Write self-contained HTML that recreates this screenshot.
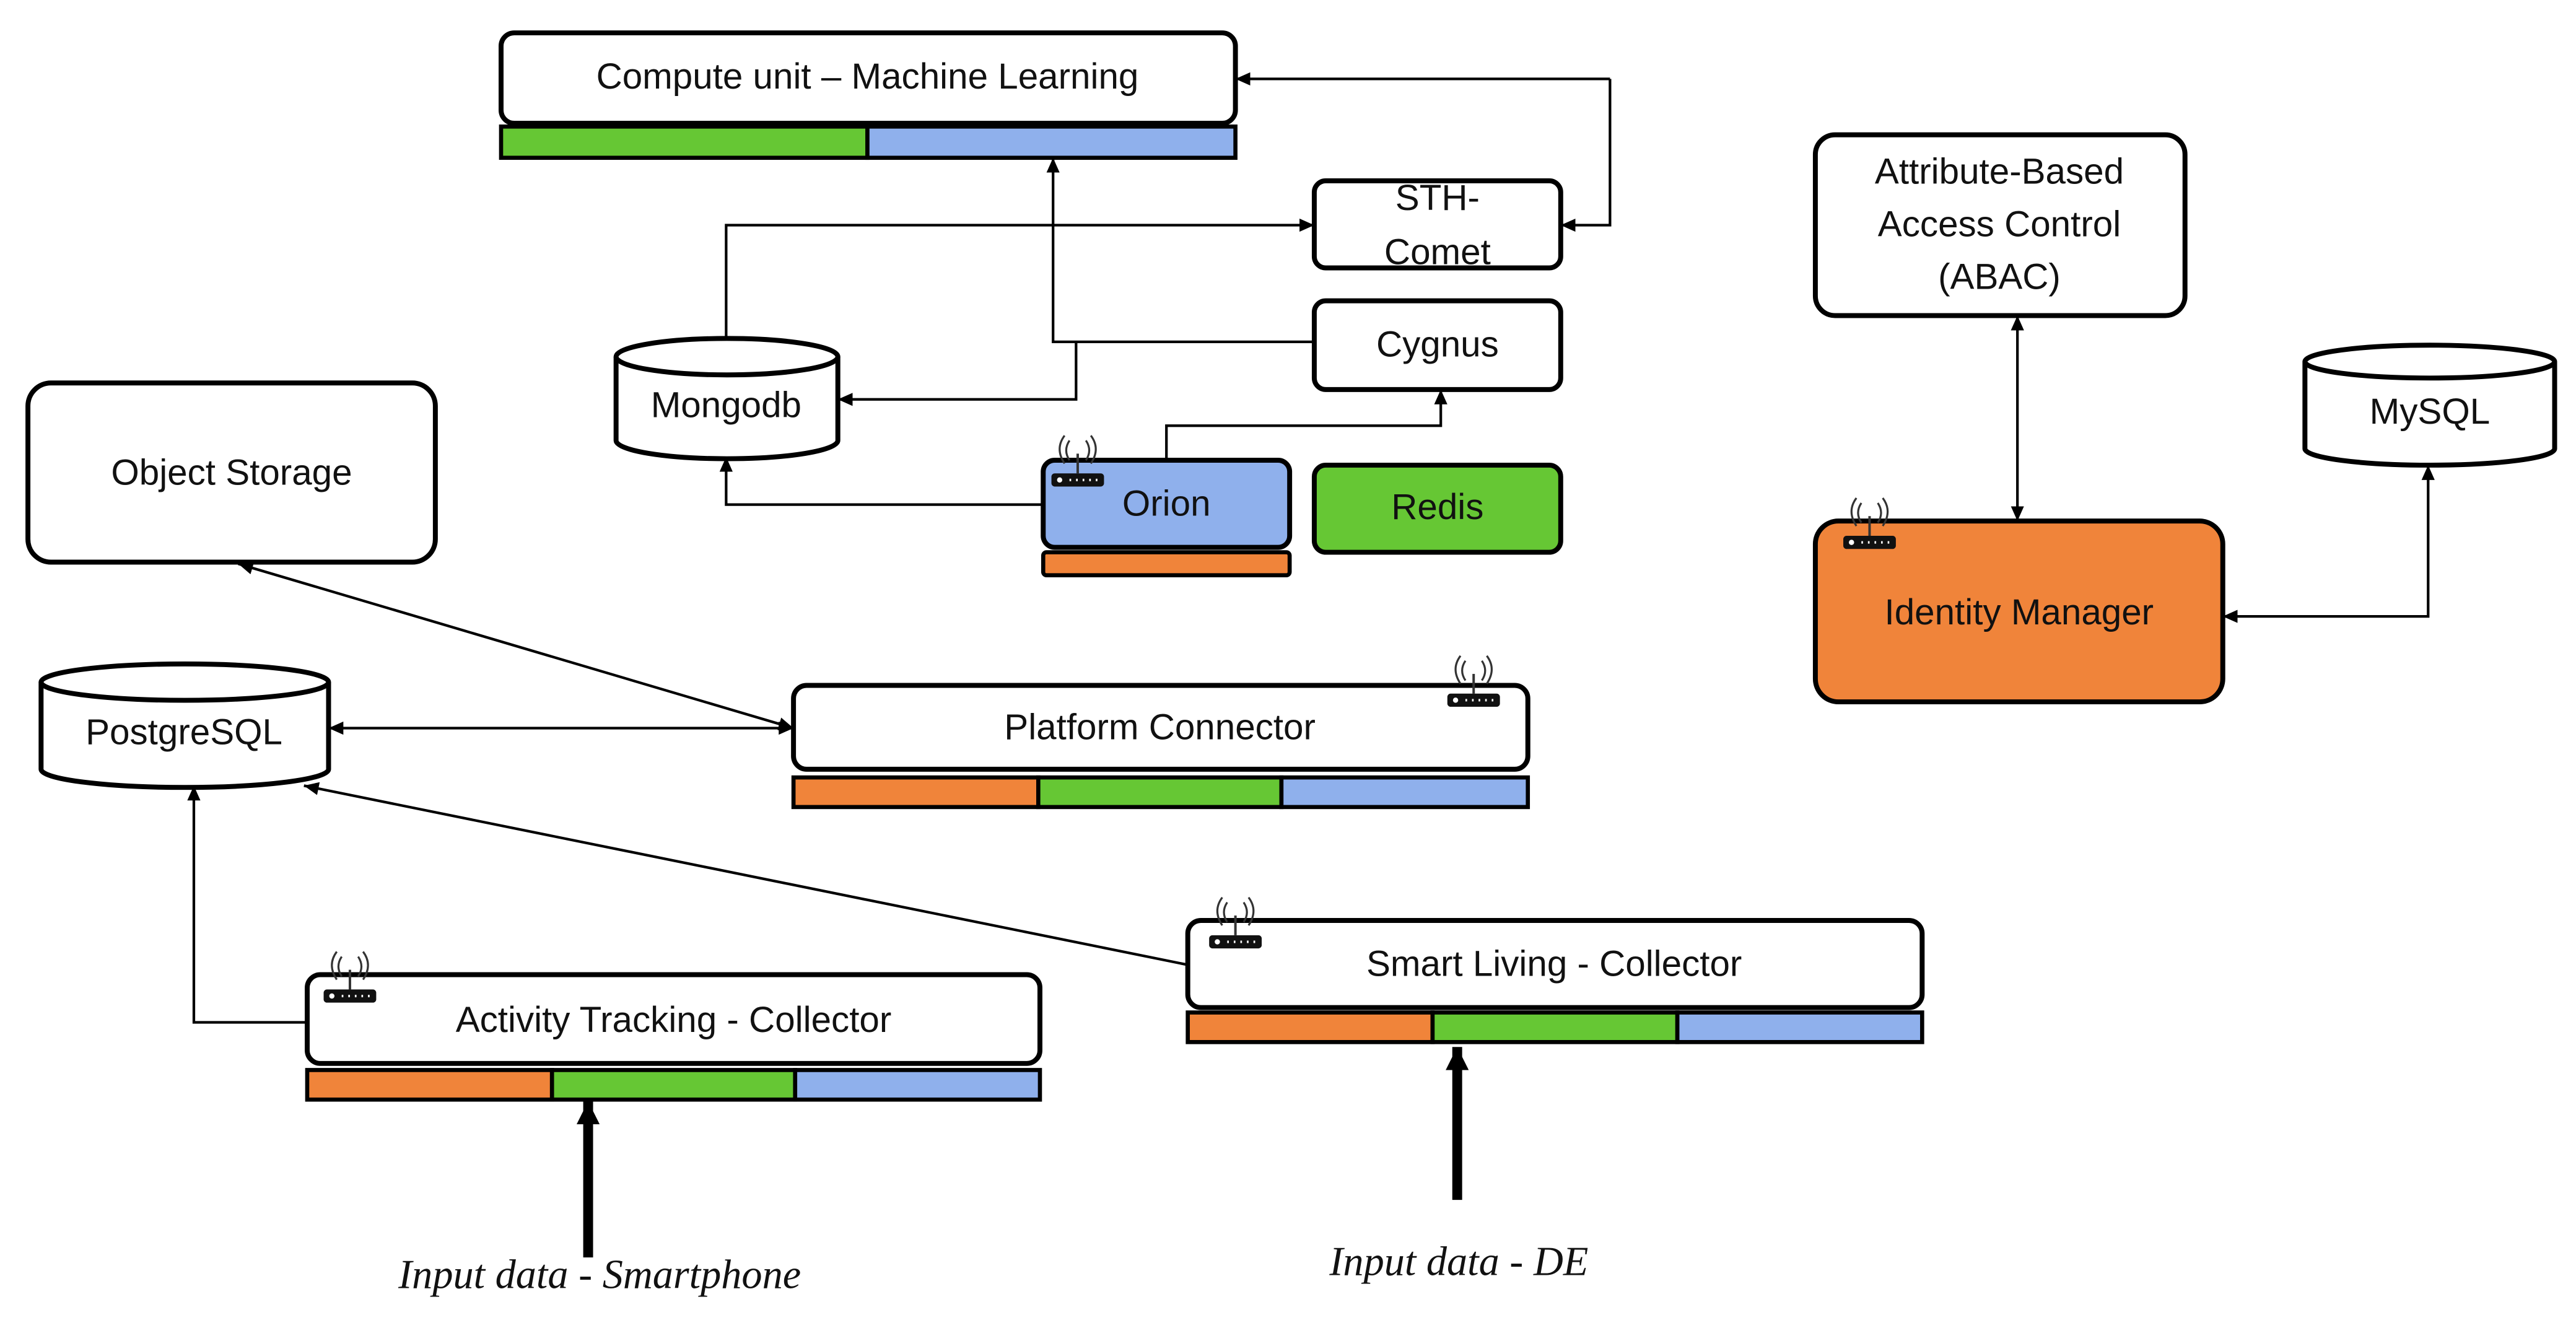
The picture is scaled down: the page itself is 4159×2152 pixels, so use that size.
<!DOCTYPE html>
<html><head><meta charset="utf-8"><style>
html,body{margin:0;padding:0;background:#fff}
svg{display:block}
text{font-family:"Liberation Sans",sans-serif;font-size:22px;fill:#111;text-anchor:middle;dominant-baseline:middle}
.it{font-family:"Liberation Serif",serif;font-style:italic;font-size:25px}
.b{fill:#fff;stroke:#000;stroke-width:3}
.l{fill:none;stroke:#000;stroke-width:1.6}
</style></head><body>
<svg width="4159" height="2152" viewBox="0 0 1568 811" preserveAspectRatio="none" xmlns="http://www.w3.org/2000/svg">
<defs>
<marker id="a" markerWidth="10" markerHeight="10" refX="9" refY="5" orient="auto-start-reverse" markerUnits="userSpaceOnUse"><path d="M0,1 L9,5 L0,9 z" fill="#000"/></marker>
<marker id="A" markerWidth="16" markerHeight="16" refX="14" refY="8" orient="auto" markerUnits="userSpaceOnUse"><path d="M0,1 L14,8 L0,15 z" fill="#000"/></marker>
<g id="ant"><path d="M-5,-4 q-4,-6 0,-12 M5,-4 q4,-6 0,-12 M-8,-2 q-6,-9 0,-17 M8,-2 q6,-9 0,-17" fill="none" stroke="#333" stroke-width="1.2"/><line x1="0" y1="-8" x2="0" y2="4" stroke="#333" stroke-width="1.5"/><rect x="-16" y="4" width="32" height="8" rx="2" fill="#111"/><circle cx="-11" cy="8" r="1.6" fill="#fff"/><path d="M-5,8h1M-1,8h1M3,8h1M7,8h1M11,8h1" stroke="#fff" stroke-width="1.5"/></g>
</defs>

<!-- connectors -->
<path class="l" d="M980,48 H752" marker-end="url(#a)"/>
<path class="l" d="M980,48 V137 H950" marker-end="url(#a)"/>
<path class="l" d="M442,207 V137 H800" marker-end="url(#a)"/>
<path class="l" d="M800,208 H641 V96" marker-end="url(#a)"/>
<path class="l" d="M655,208 V243 H510" marker-end="url(#a)"/>
<path class="l" d="M710,280 V259 H877 V237" marker-end="url(#a)"/>
<path class="l" d="M635,307 H442 V278" marker-end="url(#a)"/>
<path class="l" d="M145,343 L483,443" marker-start="url(#a)" marker-end="url(#a)"/>
<path class="l" d="M200,443 H483" marker-start="url(#a)" marker-end="url(#a)"/>
<path class="l" d="M187,622 H118 V478" marker-end="url(#a)"/>
<path class="l" d="M723,587 L185,478" marker-end="url(#a)"/>
<path class="l" d="M1228,192 V317" marker-start="url(#a)" marker-end="url(#a)"/>
<path class="l" d="M1353,375 H1478 V283" marker-start="url(#a)" marker-end="url(#a)"/>
<path d="M358,765 V670" stroke="#000" stroke-width="6" marker-end="url(#A)"/>
<path d="M887,730 V637" stroke="#000" stroke-width="6" marker-end="url(#A)"/>

<!-- Compute unit -->
<rect class="b" x="305" y="20" width="447" height="55" rx="8"/>
<text x="528" y="48">Compute unit – Machine Learning</text>
<rect x="305" y="77" width="223" height="19" fill="#66c734" stroke="#000" stroke-width="2.5"/>
<rect x="528" y="77" width="224" height="19" fill="#8fb0ec" stroke="#000" stroke-width="2.5"/>

<!-- STH-Comet -->
<rect class="b" x="800" y="110" width="150" height="53" rx="7"/>
<text x="875" y="122">STH-</text><text x="875" y="155">Comet</text>
<!-- Cygnus -->
<rect class="b" x="800" y="183" width="150" height="54" rx="7"/>
<text x="875" y="211">Cygnus</text>
<!-- Mongodb -->
<path class="b" d="M375,217 V268 A67,11 0 0 0 510,268 V217 A67,11 0 0 0 375,217 Z"/>
<path d="M375,217 A67,11 0 0 0 510,217" fill="none" stroke="#000" stroke-width="3"/>
<text x="442" y="248">Mongodb</text>
<!-- Orion -->
<rect x="635" y="280" width="150" height="53" rx="7" fill="#8fb0ec" stroke="#000" stroke-width="3"/>
<rect x="635" y="336" width="150" height="14" rx="2" fill="#f0843a" stroke="#000" stroke-width="2.5"/>
<text x="710" y="308">Orion</text>
<use href="#ant" x="656" y="284"/>
<!-- Redis -->
<rect x="800" y="283" width="150" height="53" rx="7" fill="#66c734" stroke="#000" stroke-width="3"/>
<text x="875" y="310">Redis</text>

<!-- Object Storage -->
<rect class="b" x="17" y="233" width="248" height="109" rx="14"/>
<text x="141" y="289">Object Storage</text>

<!-- PostgreSQL -->
<path class="b" d="M25,415 V468 A87,11 0 0 0 200,468 V415 A87,11 0 0 0 25,415 Z"/>
<path d="M25,415 A87,11 0 0 0 200,415" fill="none" stroke="#000" stroke-width="3"/>
<text x="112" y="447">PostgreSQL</text>

<!-- Platform Connector -->
<rect class="b" x="483" y="417" width="447" height="51" rx="8"/>
<text x="706" y="444">Platform Connector</text>
<rect x="483" y="473" width="149" height="18" fill="#f0843a" stroke="#000" stroke-width="2.5"/>
<rect x="632" y="473" width="148" height="18" fill="#66c734" stroke="#000" stroke-width="2.5"/>
<rect x="780" y="473" width="150" height="18" fill="#8fb0ec" stroke="#000" stroke-width="2.5"/>
<use href="#ant" x="897" y="418"/>

<!-- Activity Tracking -->
<rect class="b" x="187" y="593" width="446" height="54" rx="8"/>
<text x="410" y="622">Activity Tracking - Collector</text>
<rect x="187" y="651" width="149" height="18" fill="#f0843a" stroke="#000" stroke-width="2.5"/>
<rect x="336" y="651" width="148" height="18" fill="#66c734" stroke="#000" stroke-width="2.5"/>
<rect x="484" y="651" width="149" height="18" fill="#8fb0ec" stroke="#000" stroke-width="2.5"/>
<use href="#ant" x="213" y="598"/>

<!-- Smart Living -->
<rect class="b" x="723" y="560" width="447" height="53" rx="8"/>
<text x="946" y="588">Smart Living - Collector</text>
<rect x="723" y="616" width="149" height="18" fill="#f0843a" stroke="#000" stroke-width="2.5"/>
<rect x="872" y="616" width="149" height="18" fill="#66c734" stroke="#000" stroke-width="2.5"/>
<rect x="1021" y="616" width="149" height="18" fill="#8fb0ec" stroke="#000" stroke-width="2.5"/>
<use href="#ant" x="752" y="565"/>

<text class="it" x="365" y="778">Input data - Smartphone</text>
<text class="it" x="888" y="770">Input data - DE</text>

<!-- ABAC -->
<rect class="b" x="1105" y="82" width="225" height="110" rx="12"/>
<text x="1217" y="106">Attribute-Based</text>
<text x="1217" y="138">Access Control</text>
<text x="1217" y="170">(ABAC)</text>

<!-- MySQL -->
<path class="b" d="M1403,220 V273 A76,10 0 0 0 1555,273 V220 A76,10 0 0 0 1403,220 Z"/>
<path d="M1403,220 A76,10 0 0 0 1555,220" fill="none" stroke="#000" stroke-width="3"/>
<text x="1479" y="252">MySQL</text>

<!-- Identity Manager -->
<rect x="1105" y="317" width="248" height="110" rx="14" fill="#f0843a" stroke="#000" stroke-width="3"/>
<text x="1229" y="374">Identity Manager</text>
<use href="#ant" x="1138" y="322"/>
</svg>
</body></html>
